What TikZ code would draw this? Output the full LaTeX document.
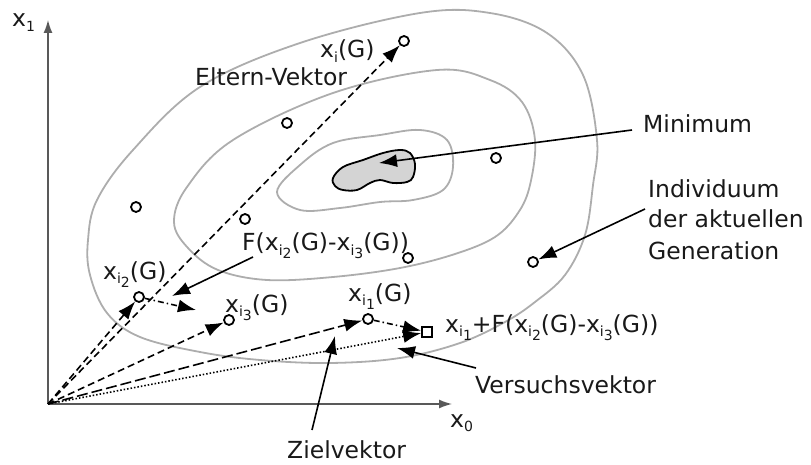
\documentclass[tikz,border=0pt]{standalone}
\usepackage{fontspec}
\setmainfont{DejaVu Sans}
\usetikzlibrary{arrows.meta}
\newcommand\lwA[1]{\raisebox{-4.5pt}{\fontsize{14}{14}\selectfont #1}}
\newcommand\lwB[1]{\raisebox{-3.5pt}{#1}}
\begin{document}
\begin{tikzpicture}[x=1pt,y=-1pt,
  lbl/.style={inner sep=0pt, anchor=base west, font=\fontsize{23.5}{28}\selectfont, text=black!90},
  dot/.style={circle, draw, line width=1.8pt, minimum size=10pt, inner sep=0pt, fill=white},
  sqbox/.style={rectangle, draw, line width=1.8pt, minimum size=10pt, inner sep=0pt, fill=white},
  contour/.style={draw=black!32, line width=1.8pt},
  tipL/.style={-{Latex[length=18pt,width=13pt]}},
  vec/.style={tipL, line width=1.6pt},
  shortdash/.style={dash pattern=on 7pt off 4pt},
  longdash/.style={dash pattern=on 11pt off 4pt},
  dotline/.style={dash pattern=on 1.5pt off 2pt},
  dashdot/.style={dash pattern=on 6pt off 3pt on 1.5pt off 3pt},
  pointer/.style={tipL, line width=1.6pt},
  axis/.style={draw=black!65, line width=1.4pt, -{Latex[length=13pt,width=9pt]}}
]
\useasboundingbox (0,0) rectangle (811,465);

% contours
\draw[contour] plot[smooth cycle, tension=0.6] coordinates {
  (420,13) (490,13) (547,33) (583,75) (597,140) (593,185) (585,235) (565,275)
  (535,302) (505,322) (460,343) (400,358) (330,363) (260,360) (200,352)
  (140,337) (107,313) (90,275) (88,240) (97,200) (133,150) (200,87) (300,43)};
\draw[contour] plot[smooth cycle, tension=0.6] coordinates {
  (174,222) (187,187) (233,140) (333,93) (437,70) (490,80) (522,102) (535,140)
  (530,185) (518,213) (495,237) (455,254) (400,268) (333,277) (267,280)
  (218,270) (188,248)};
\draw[contour] plot[smooth cycle, tension=0.6] coordinates {
  (277,192) (300,165) (333,143) (380,135) (420,130) (447,140) (453,167)
  (443,190) (413,200) (380,202) (340,208) (300,210)};

% minimum blob
\draw[line width=1.8pt, fill=black!17] plot[smooth cycle, tension=0.6] coordinates {
  (333,178) (343,167) (363,160) (383,153) (400,150) (410,153) (415,164)
  (413,177) (407,182) (393,183) (380,180) (370,183) (357,190) (343,190) (335,186)};

% axes
\coordinate (O) at (48,404);
\coordinate (yend) at (48,20);
\coordinate (xend) at (452,404);
\draw[axis] (O) -- (yend);
\draw[axis] (O) -- (xend);

% individuals
\node[dot] (xi)  at (404,41) {};
\node[dot] (d2)  at (287,123) {};
\node[dot] (d3)  at (136,207) {};
\node[dot] (d4)  at (245,219) {};
\node[dot] (d5)  at (496,158) {};
\node[dot] (d6)  at (408,258) {};
\node[dot] (d7)  at (533,262) {};
\node[dot] (xi2) at (139,297) {};
\node[dot] (xi3) at (229,320) {};
\node[dot] (xi1) at (368,319) {};
\node[sqbox] (sq) at (427,332) {};

% vectors
\coordinate (diffend) at (196,310);
\draw[vec, shortdash] (O) -- (xi);
\draw[vec, shortdash] (O) -- (xi2);
\draw[vec, shortdash] (O) -- (xi3);
\draw[vec, longdash] (O) -- (xi1);
\draw[vec, dotline] (O) -- (sq);
\draw[vec, dashdot] (xi2) -- (diffend);
\draw[vec, dashdot] (xi1) -- (sq);

% labels
\node[lbl] (lx1) at (12,27) {x\lwA{1}};
\node[lbl] (lx0) at (450,427) {x\lwA{0}};
\node[lbl] (lxi) at (320,58) {x\lwA{i}(G)};
\node[lbl] (lelt) at (195,86) {Eltern-Vektor};
\node[lbl] (lmin) at (643,133) {Minimum};
\node[lbl] (lind1) at (648,198) {Individuum};
\node[lbl] (lind2) at (648,228) {der aktuellen};
\node[lbl] (lind3) at (648,259) {Generation};
\node[lbl] (lF) at (242,251) {F(x\lwA{i\lwB{2}}(G)-x\lwA{i\lwB{3}}(G))};
\node[lbl] (lxi2) at (103,279) {x\lwA{i\lwB{2}}(G)};
\node[lbl] (lxi3) at (225,312) {x\lwA{i\lwB{3}}(G)};
\node[lbl] (lxi1) at (348,301) {x\lwA{i\lwB{1}}(G)};
\node[lbl] (lsum) at (445,332) {x\lwA{i\lwB{1}}+F(x\lwA{i\lwB{2}}(G)-x\lwA{i\lwB{3}}(G))};
\node[lbl] (lvers) at (475,393) {Versuchsvektor};
\node[lbl] (lziel) at (287,458) {Zielvektor};

% pointers
\coordinate (cmin) at (632,130);
\coordinate (minpt) at (379,163);
\coordinate (cind) at (645,209);
\coordinate (cF) at (253,257);
\coordinate (fpt) at (172,296);
\coordinate (cvers) at (476,368);
\coordinate (verspt) at (397,348);
\coordinate (cziel) at (312,430);
\coordinate (zielpt) at (335,336);
\draw[pointer] (cmin) -- (minpt);
\draw[pointer] (cind) -- (d7);
\draw[pointer] (cF) -- (fpt);
\draw[pointer] (cvers) -- (verspt);
\draw[pointer] (cziel) -- (zielpt);
\end{tikzpicture}
\end{document}
